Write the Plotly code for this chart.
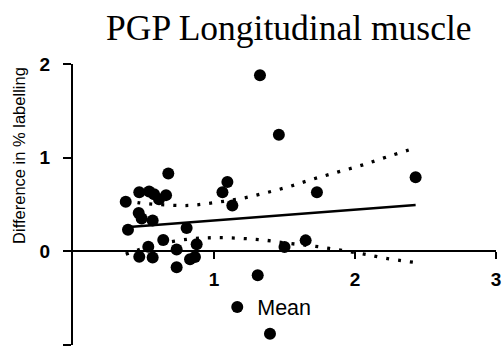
import plotly.graph_objects as go

# Data
x_vals = [0.374, 0.39, 0.466, 0.47, 0.487, 0.54, 0.565, 0.575, 0.61, 0.66,
          0.676, 0.806, 0.64, 0.534, 0.47, 0.565, 0.735, 0.735, 0.877, 0.83,
          0.865, 1.095, 1.06, 1.13, 1.31, 1.397, 1.50, 1.65, 1.326, 1.46,
          1.73, 2.43]
y_vals = [0.53, 0.23, 0.41, 0.63, 0.35, 0.64, 0.33, 0.61, 0.555, 0.60,
          0.83, 0.25, 0.12, 0.05, -0.057, -0.067, 0.02, -0.17, 0.075, -0.085,
          -0.06, 0.74, 0.63, 0.49, -0.256, -0.88, 0.046, 0.117, 1.88, 1.245,
          0.63, 0.79]
series_name = "Mean"

# Regression line and 95% confidence band
reg_x = [0.374, 2.43]
reg_y = [0.257, 0.495]
band_x = [0.374, 0.46, 0.6, 0.82, 1.0, 1.18, 1.355, 1.53, 1.70, 1.875, 2.05, 2.22, 2.43]
band_upper = [0.55, 0.52, 0.50, 0.49, 0.52, 0.56, 0.62, 0.69, 0.77, 0.845, 0.92, 1.005, 1.105]
band_lower = [-0.03, 0.014, 0.075, 0.13, 0.146, 0.139, 0.12, 0.085, 0.057, 0.018, -0.025, -0.075, -0.12]

x_ticks = [1, 2, 3]
y_ticks = [-1, 0, 1, 2]
title_text = "PGP Longitudinal muscle"
y_title = "Difference in % labelling"

dot_line = dict(color="black", width=3.3, dash="3px,9px", shape="spline")

fig = go.Figure()
fig.add_trace(go.Scatter(x=band_x, y=band_upper, mode="lines", showlegend=False,
                         line=dot_line, hoverinfo="skip"))
fig.add_trace(go.Scatter(x=band_x, y=band_lower, mode="lines", showlegend=False,
                         line=dot_line, hoverinfo="skip"))
fig.add_trace(go.Scatter(x=reg_x, y=reg_y, mode="lines", showlegend=False,
                         line=dict(color="black", width=2.5), hoverinfo="skip"))
fig.add_trace(go.Scatter(x=x_vals, y=y_vals, mode="markers", name=series_name,
                         marker=dict(color="black", size=12, line=dict(width=0))))

tickfont = dict(family="Liberation Sans, Arial", size=19, color="black", weight="bold")

fig.update_layout(
    width=502, height=354,
    margin=dict(l=73, r=6, t=64, b=9),
    paper_bgcolor="white", plot_bgcolor="white",
    showlegend=True,
    legend=dict(x=0.341, y=0.135, xanchor="left", yanchor="middle",
                bgcolor="rgba(0,0,0,0)", borderwidth=0,
                font=dict(family="Liberation Sans, Arial", size=21.5, color="black")),
    xaxis=dict(range=[0, 3], tickvals=x_ticks, showgrid=False, zeroline=False,
               showline=True, linecolor="black", linewidth=2,
               ticks="outside", ticklen=7, tickwidth=2, tickcolor="black",
               anchor="free", position=1/3, tickfont=tickfont, automargin=False,
               ticklabelstandoff=4),
    yaxis=dict(range=[-1, 2], tickvals=y_ticks, showgrid=False, zeroline=False,
               showline=True, linecolor="black", linewidth=2,
               ticks="outside", ticklen=8, tickwidth=2, tickcolor="black",
               tickfont=tickfont, automargin=False, ticklabelstandoff=9),
    annotations=[
        dict(text=title_text, xref="paper", yref="paper", x=0.51, y=1.0,
             yshift=14, xanchor="center", yanchor="bottom", showarrow=False,
             font=dict(family="Liberation Serif, Times New Roman", size=35.5, color="black")),
        dict(text=y_title, xref="paper", yref="paper", x=0, xshift=-54, y=0.673,
             xanchor="center", yanchor="middle", textangle=-90, showarrow=False,
             font=dict(family="Liberation Sans, Arial", size=16.5, color="black")),
    ],
)

fig.write_html("out.html", config={"displayModeBar": False},
               post_script="document.body.style.margin='0';document.body.style.overflow='hidden';")
